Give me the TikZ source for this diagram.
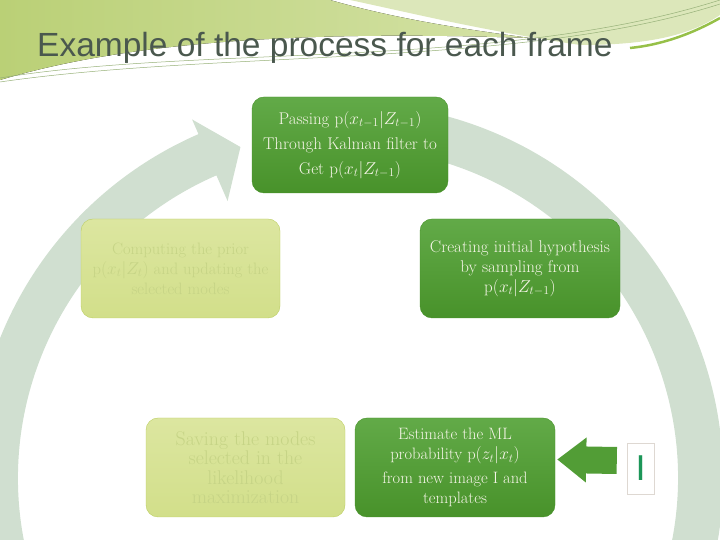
\documentclass[tikz,border=0pt]{standalone}
\usepackage{amsmath,amssymb}
\usepackage{fontspec}
\newfontfamily\titlefont{Liberation Sans}
\usepackage{xcolor}
\usepackage{tikz}
\usetikzlibrary{arrows.meta, positioning, calc}

\definecolor{ringgray}{RGB}{208,223,208}
\definecolor{stepgreen}{RGB}{82,157,54}
\definecolor{steptop}{RGB}{98,170,72}
\definecolor{stepbot}{RGB}{72,146,42}
\definecolor{steptext}{RGB}{244,244,230}
\definecolor{paletop}{RGB}{220,230,160}
\definecolor{palebot}{RGB}{210,223,138}
\definecolor{paleedge}{RGB}{188,206,98}
\definecolor{paletext}{RGB}{198,212,134}
\definecolor{titlegray}{RGB}{74,88,78}
\definecolor{imggreen}{RGB}{28,150,88}
\definecolor{imgedge}{RGB}{222,216,210}
\definecolor{hdrA}{RGB}{186,208,118}
\definecolor{hdrB}{RGB}{212,226,166}
\definecolor{hdrC}{RGB}{220,231,186}
\definecolor{hdrline}{RGB}{150,176,120}
\definecolor{streak}{RGB}{150,192,72}

\begin{document}
\begin{tikzpicture}[
    x=1pt, y=1pt,
    font=\fontsize{16.5}{20}\selectfont,
    block/.style={rounded corners=12pt, minimum width=200pt, minimum height=99pt, align=center, inner sep=4pt},
    active/.style={block, top color=steptop, bottom color=stepbot, draw=stepbot, text=steptext},
    faded/.style={block, top color=paletop, bottom color=palebot, draw=paleedge, text=paletext},
    ring/.style={fill=ringgray},
    fatarrow/.style={line width=27pt, stepgreen, -{Triangle[length=29pt, width=43pt]}},
    hline/.style={hdrline, line width=0.5pt}
]
\useasboundingbox (0,0) rectangle (720,540);
\clip (0,0) rectangle (720,540);

% Header
\fill[left color=hdrA, right color=hdrB] (0,540) -- (330,540) .. controls (400,520) and (470,510) .. (530,502)
    .. controls (350,508) and (150,505) .. (0,460) -- cycle;
\fill[hdrC] (350,540) -- (720,540) -- (720,525) .. controls (690,505) and (650,495) .. (580,495)
    .. controls (480,510) and (420,525) .. (350,540) -- cycle;
\draw[streak, line width=2.5pt] (720,522) .. controls (690,505) and (660,495) .. (630,492);
\draw[hline] (0,462) .. controls (200,495) and (500,470) .. (720,540);
\draw[hline] (0,458) .. controls (220,490) and (520,472) .. (720,536);

\node[anchor=base west, inner sep=0, text=titlegray, font=\titlefont\fontsize{33.5}{40}\selectfont] (title) at (37,483) {Example of the process for each frame};

% Cycle band
\begin{scope}[shift={(348,62)}]
\fill[ring] (76:375pt) arc[start angle=76, end angle=-246.5, radius=375pt] -- (-246.5:391pt) -- (-252:348pt)
    -- (-246.5:302pt) -- (-246.5:330pt) arc[start angle=-246.5, end angle=76, radius=330pt] -- cycle;
\end{scope}

% Steps
\node[active, minimum width=196pt, minimum height=96pt, font=\fontsize{17}{25}\selectfont] (pass) at (350,395)
    {Passing p$(x_{t-1}|Z_{t-1})$\\Through Kalman filter to\\Get p$(x_t|Z_{t-1})$};
\node[faded, minimum width=199pt] (prior) at (180.5,271.5)
    {Computing the prior\\p$(x_t|Z_t)$ and updating the\\selected modes};
\node[active, font=\fontsize{17}{20}\selectfont] (sample) at (520,271.5)
    {Creating initial hypothesis\\by sampling from\\p$(x_t|Z_{t-1})$};
\node[faded, minimum width=199pt, font=\fontsize{19.8}{19.5}\selectfont] (save) at (245.5,72.5)
    {Saving the modes\\selected in the\\likelihood\\maximization};
\node[active] (estimate) at (455,72.5)
    {Estimate the ML\\probability p$(z_t|x_t)$\\[4pt]from new image I and\\templates};

% Input image
\node[draw=imgedge, fill=white, minimum width=27pt, minimum height=51pt, inner sep=0,
    text=imggreen, font=\titlefont\fontsize{36}{36}\selectfont] (img) at (640.5,71.5) {I};
\draw[fatarrow] ([xshift=-10pt, yshift=8pt]img.west) -- ([xshift=2pt, yshift=8pt]estimate.east);
\end{tikzpicture}
\end{document}
